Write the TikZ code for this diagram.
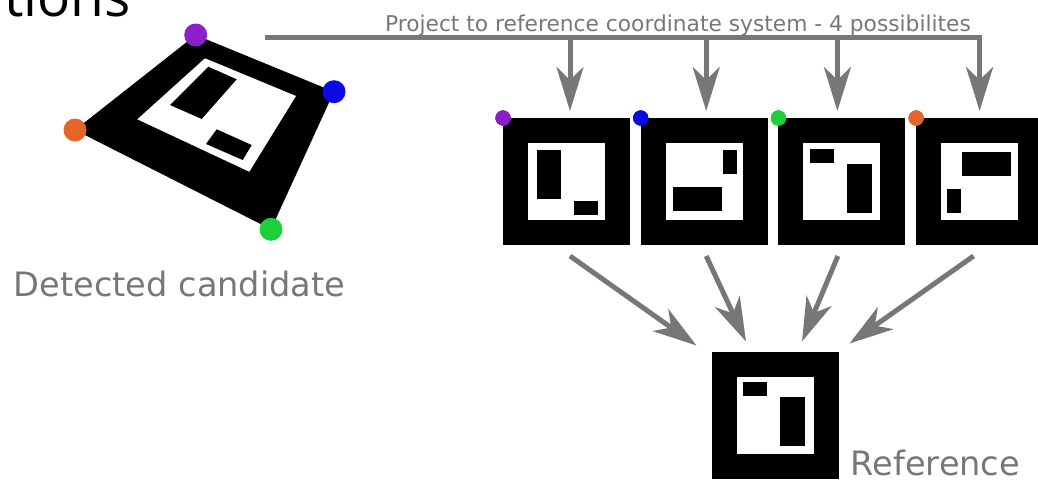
\documentclass[tikz,border=0pt]{standalone}
\usepackage{fontspec}
\setmainfont{DejaVu Sans}
\newfontfamily\titlefont{Open Sans}
\usetikzlibrary{arrows.meta,positioning,calc}

\definecolor{linegray}{RGB}{119,119,119}
\definecolor{cpurple}{RGB}{140,32,200}
\definecolor{cblue}{RGB}{10,10,230}
\definecolor{cgreen}{RGB}{28,208,56}
\definecolor{corange}{RGB}{230,100,40}

% the two code blocks of the marker, around its centre
\newcommand{\codebits}{%
  \fill (-31.75,-33) rectangle (-7.6,-19);
  \fill (5.1,-17.8) rectangle (29.8,31.1);}

\begin{document}
\begin{tikzpicture}[x=1pt,y=-1pt,
  marker/.style={rectangle,draw=black,line width=25pt,fill=white,minimum size=102pt,inner sep=0pt},
  flow/.style={draw=linegray,line width=5pt,-{Stealth[length=44pt,width=27pt,inset=13pt]}},
  caption/.style={text=linegray,inner sep=0pt,font=\fontsize{33.6}{40}\selectfont},
  node distance=137.7pt,on grid]
\useasboundingbox (0,0) rectangle (1038,480);

\node[anchor=base east,inner sep=0pt,text=black,font=\titlefont\fontsize{55}{63}\selectfont] (title) at (131,16) {Solutions};

% detected candidate
\coordinate (cP) at (195.7,35);
\coordinate (cB) at (334,91.7);
\coordinate (cG) at (271,229.3);
\coordinate (cO) at (75,130);
\fill[black] (cP) -- (cB) -- (cG) -- (cO) -- cycle;
\fill[white] (205,58.3) -- (296,96) -- (249.3,171.7) -- (137.3,119.3) -- cycle;
\fill[black] (208.3,66.7) -- (236.7,79.3) -- (201.7,119) -- (170,105) -- cycle;
\fill[black] (216.7,129.3) -- (251.7,145) -- (242.7,160) -- (206,144) -- cycle;
\fill[cpurple] (cP) circle (11.5);
\fill[cblue] (cB) circle (11.5);
\fill[cgreen] (cG) circle (11.5);
\fill[corange] (cO) circle (11.5);
\node[caption,anchor=base west] (cand) at (13.7,296) {Detected candidate};

% the four possibilities and the reference
\node[marker] (m1) at (566.5,181.5) {};
\node[marker,right=of m1] (m2) {};
\node[marker,right=of m2] (m3) {};
\node[marker,right=of m3] (m4) {};
\node[marker] (ref) at (775,415) {};
\foreach \m/\r in {m1/180,m2/-90,m3/0,m4/90,ref/0}
  \begin{scope}[shift={(\m.center)},rotate=\r] \codebits \end{scope}
\foreach \m/\c in {m1/cpurple,m2/cblue,m3/cgreen,m4/corange}
  \fill[\c] (\m.north west) circle (7.5);
\node[caption,anchor=base west] (reflabel) at (850.7,475) {Reference};

% projection arrows
\coordinate (src) at (265,37);
\node[text=linegray,inner sep=0pt,font=\fontsize{21.75}{26}\selectfont,anchor=base] (proj) at (678,31) {Project to reference coordinate system - 4 possibilites};
\draw[flow,shorten >=7pt] (src) -| (m4.north);
\draw[flow,shorten >=7pt] ($(m1.north |- src)+(3.5,0)$) -- ($(m1.north)+(3.5,0)$);
\draw[flow,shorten >=7pt] ($(m2.north |- src)+(2,0)$) -- ($(m2.north)+(2,0)$);
\draw[flow,shorten >=7pt] ($(m3.north |- src)+(-4.5,0)$) -- ($(m3.north)+(-4.5,0)$);

\draw[flow] ([xshift=3.5pt,yshift=-11pt]m1.south) -- ([xshift=-15pt,yshift=6pt]ref.north west);
\draw[flow] ([xshift=2pt,yshift=-11pt]m2.south) -- ([xshift=-29pt,yshift=10pt]ref.north);
\draw[flow] ([xshift=-4pt,yshift=-11pt]m3.south) -- ([xshift=27pt,yshift=10pt]ref.north);
\draw[flow] ([xshift=-6pt,yshift=-11pt]m4.south) -- ([xshift=11pt,yshift=8pt]ref.north east);
\end{tikzpicture}
\end{document}
